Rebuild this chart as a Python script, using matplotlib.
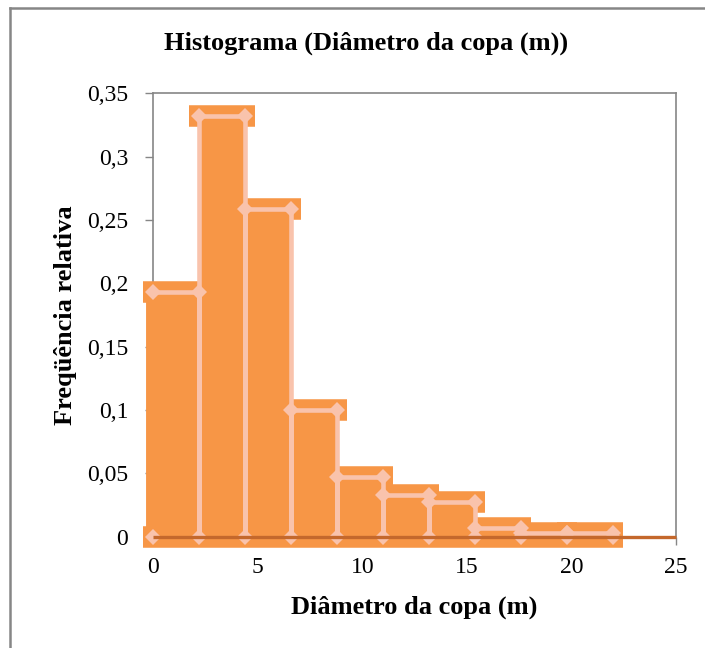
import matplotlib
matplotlib.use('Agg')
import matplotlib.pyplot as plt
from matplotlib.lines import Line2D

plt.rcParams['font.family'] = ['Liberation Serif', 'DejaVu Serif']

# histogram data (relative frequency per class of crown diameter)
bin_edges = [0, 2.2, 4.4, 6.6, 8.8, 11.0, 13.2, 15.4, 17.6, 19.8, 22.0]
rel_freq = [0.193, 0.332, 0.259, 0.100, 0.047, 0.033, 0.027, 0.007, 0.003, 0.003]
y_ticks = [0, 0.05, 0.1, 0.15, 0.2, 0.25, 0.3, 0.35]
y_tick_labels = ['0', '0,05', '0,1', '0,15', '0,2', '0,25', '0,3', '0,35']
x_ticks = [0, 5, 10, 15, 20, 25]

ORANGE = '#F79646'
PINK = '#F9C3AC'
BROWN = '#C4682C'
GREY = '#868686'

fig = plt.figure(figsize=(7.05, 6.48), dpi=100)
ax = fig.add_axes([153.3/705, 111.4/648, (676-153.3)/705, (554.7-111.4)/648])

lefts = bin_edges[:-1]
rights = bin_edges[1:]
widths = [r - l for l, r in zip(lefts, rights)]

# bars
ax.bar(lefts, rel_freq, width=widths, align='edge', color=ORANGE,
       linewidth=0, zorder=2, clip_on=False)
# thick caps (Excel style) at top and bottom
ext = 0.47
caps = ax.hlines(rel_freq, [l - ext for l in lefts], [r + ext for r in rights],
                 colors=ORANGE, linewidth=15.5, zorder=2, clip_on=False)
caps.set_capstyle('butt')
base = ax.hlines(0, lefts[0] - ext, rights[-1] + ext, colors=ORANGE,
                 linewidth=15.5, zorder=2, clip_on=False)
base.set_capstyle('butt')
side = ax.vlines(lefts[0], 0, rel_freq[0], colors=ORANGE, linewidth=10,
                 zorder=2, clip_on=False)
side.set_capstyle('butt')

# step outline with diamond markers
xs, ys = [bin_edges[0]], [0]
for l, r, h in zip(lefts, rights, rel_freq):
    xs += [l, r, r]
    ys += [h, h, 0]
ax.plot(xs[1:], ys[1:], color=PINK, linewidth=3.3, marker='D', markersize=8.5,
        markeredgewidth=0, zorder=3, clip_on=False)
ax.plot(xs[:1], ys[:1], linestyle='none', color=PINK, marker='D',
        markersize=8.5, markeredgewidth=0, zorder=3, clip_on=False)

# baseline
ax.plot([0, 25], [0, 0], color=BROWN, linewidth=2.4, zorder=4,
        solid_capstyle='butt', clip_on=False)

ax.set_xlim(0, 25)
ax.set_ylim(0, 0.35)
ax.set_yticks(y_ticks)
ax.set_yticklabels(y_tick_labels)
ax.set_xticks(x_ticks)
ax.tick_params(axis='y', direction='out', length=6, width=1, color=GREY,
               labelsize=17, pad=12)
ax.tick_params(axis='x', direction='out', length=6, width=1, color=GREY,
               labelsize=17, pad=9)
for s in ['left', 'top', 'right']:
    ax.spines[s].set_color(GREY)
    ax.spines[s].set_linewidth(1.2)
ax.spines['left'].set_zorder(1)
ax.spines['bottom'].set_visible(False)

ax.set_xlabel('Diâmetro da copa (m)', fontsize=19, fontweight='bold', labelpad=12)
ax.set_ylabel('Freqüência relativa', fontsize=19, fontweight='bold', labelpad=7)
fig.text(366 / 705, 1 - 43 / 648, 'Histograma (Diâmetro da copa (m))',
         ha='center', va='center', fontsize=19, fontweight='bold')

# chart frame (only top and left edges visible)
fig.add_artist(Line2D([10 / 705, 1], [1 - 8 / 648, 1 - 8 / 648],
                      transform=fig.transFigure, color=GREY, linewidth=1.8))
fig.add_artist(Line2D([10 / 705, 10 / 705], [0, 1 - 8 / 648],
                      transform=fig.transFigure, color=GREY, linewidth=1.8))

fig.savefig('out.png', dpi=100)
